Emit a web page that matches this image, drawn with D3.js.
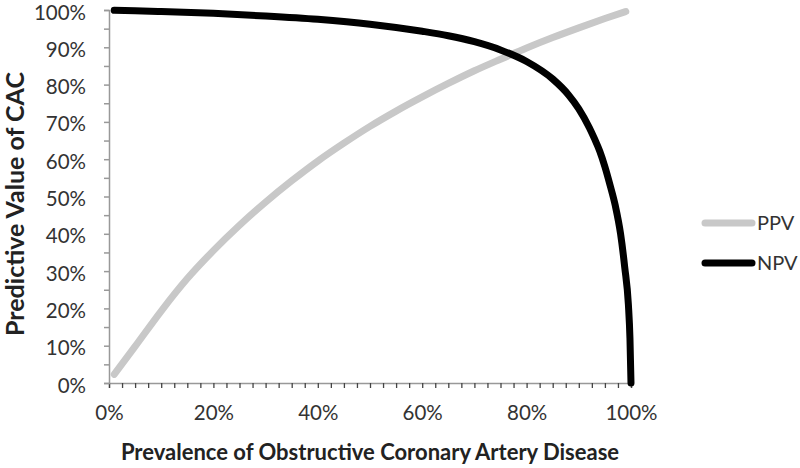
<!DOCTYPE html>
<html>
<head>
<meta charset="utf-8">
<script src="https://cdn.jsdelivr.net/npm/d3@7"></script>
<style>
  body { margin: 0; background: #fff; }
  text { font-family: Lato, "Open Sans", sans-serif; }
</style>
</head>
<body>
<div id="vis"></div>
<script>
// prevalence (%) and predictive values (%)
const ppvPrev = [1, 5, 10, 15, 20, 25, 30, 35, 40, 45, 50, 55, 60, 65, 70, 75, 80, 85, 90, 95, 99];
const ppvVals = [2.3, 9.8, 19.3, 28, 35.5, 42.3, 48.5, 54.2, 59.5, 64.3, 68.8, 72.9, 76.7, 80.3, 83.7, 86.8, 89.8, 92.6, 95.2, 97.7, 99.6];

const npvPrev = [1, 5, 10, 20, 30, 40, 50, 60, 65, 70, 75, 80, 85, 88, 90, 92, 93, 94, 95, 96, 97, 98, 98.8, 99.5, 99.8, 100];
const npvVals = [99.9, 99.8, 99.6, 99.1, 98.4, 97.5, 96.2, 94.3, 93.1, 91.5, 89.3, 86.2, 81.5, 77.3, 73.5, 68.5, 65.5, 62.2, 58, 53, 47.5, 40, 31, 21, 12, 0];

const xTickLabels = [0, 20, 40, 60, 80, 100];
const yTickLabels = [0, 10, 20, 30, 40, 50, 60, 70, 80, 90, 100];

const width = 800;
const height = 468;
const margin = { left: 109, top: 10, right: 169, bottom: 85 };

const svg = d3.select("#vis")
    .append("svg")
    .attr("width", width)
    .attr("height", height);

const x = d3.scaleLinear().domain([0, 100]).range([margin.left, width - margin.right]);
const y = d3.scaleLinear().domain([0, 100]).range([height - margin.bottom, margin.top]);

const axisColor = "#999";
const labelColor = "#333";

// minor ticks
const gx = svg.append("g")
    .attr("transform", `translate(0, ${y(0)})`)
    .call(d3.axisBottom(x).tickValues(d3.range(0, 100.1, 2.5)).tickSize(5).tickFormat(""));
const gy = svg.append("g")
    .attr("transform", `translate(${x(0)}, 0)`)
    .call(d3.axisLeft(y).tickValues(d3.range(0, 100.1, 5)).tickSize(5).tickFormat(""));

[gx, gy].forEach(g => {
    g.selectAll("path").attr("stroke", axisColor).attr("stroke-width", 1.5);
    g.selectAll("line").attr("stroke", axisColor).attr("stroke-width", 1.5);
});
gx.selectAll("line").attr("stroke", "#444").attr("stroke-width", 1.3);

// tick labels
svg.append("g")
    .attr("transform", `translate(0, ${y(0)})`)
    .call(d3.axisBottom(x).tickValues(xTickLabels).tickSize(0).tickPadding(22).tickFormat(d => d + "%"))
    .call(g => g.select(".domain").remove())
    .selectAll("text")
        .style("font-size", "20.5px")
        .style("font-family", "Lato, sans-serif")
        .attr("fill", labelColor);

svg.append("g")
    .attr("transform", `translate(${x(0)}, 2.5)`)
    .call(d3.axisLeft(y).tickValues(yTickLabels).tickSize(0).tickPadding(23).tickFormat(d => d + "%"))
    .call(g => g.select(".domain").remove())
    .selectAll("text")
        .style("font-size", "20.5px")
        .style("font-family", "Lato, sans-serif")
        .attr("fill", labelColor);

// axis titles
svg.append("text")
    .attr("x", 370)
    .attr("y", 460)
    .attr("text-anchor", "middle")
    .style("font-size", "22px")
    .style("font-weight", 700)
    .attr("fill", "#222")
    .text("Prevalence of Obstructive Coronary Artery Disease");

svg.append("text")
    .attr("transform", `translate(24, 204) rotate(-90)`)
    .attr("text-anchor", "middle")
    .style("font-size", "25px")
    .style("font-weight", 700)
    .attr("fill", "#222")
    .text("Predictive Value of CAC");

// curves
const line = d3.line()
    .x(d => x(d[0]))
    .y(d => y(d[1]))
    .curve(d3.curveMonotoneX);

const series = [
    { name: "PPV", color: "#c8c8c8", pts: d3.zip(ppvPrev, ppvVals) },
    { name: "NPV", color: "#000", pts: d3.zip(npvPrev, npvVals) }
];

svg.selectAll(".curve")
    .data(series)
    .join("path")
        .attr("class", "curve")
        .attr("d", d => line(d.pts))
        .attr("fill", "none")
        .attr("stroke", d => d.color)
        .attr("stroke-width", 7)
        .attr("stroke-linecap", "round")
        .attr("stroke-linejoin", "round");

// legend
const legend = svg.selectAll(".legend")
    .data(series)
    .join("g")
        .attr("class", "legend")
        .attr("transform", (_, i) => `translate(702, ${223 + i * 40})`);

legend.append("line")
    .attr("x1", 3).attr("x2", 50)
    .attr("stroke", d => d.color)
    .attr("stroke-width", 7)
    .attr("stroke-linecap", "round");

legend.append("text")
    .attr("x", 55)
    .attr("dy", "0.35em")
    .style("font-size", "20px")
    .attr("fill", labelColor)
    .text(d => d.name);
</script>
</body>
</html>
